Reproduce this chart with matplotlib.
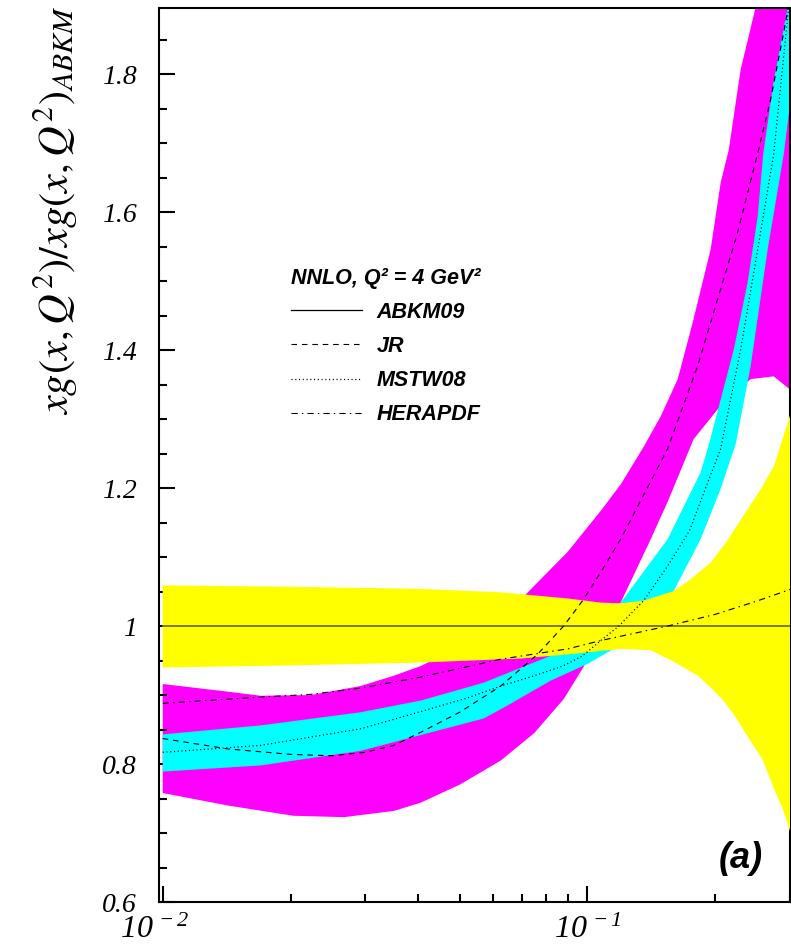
import numpy as np
import matplotlib
matplotlib.use("Agg")
import matplotlib.pyplot as plt
from matplotlib.lines import Line2D
from matplotlib.ticker import LogLocator, MultipleLocator, NullFormatter
from matplotlib.transforms import ScaledTranslation

# ABKM09 band (yellow) and central line
abkm_up_x = [0.01, 0.02, 0.04, 0.0625, 0.09, 0.1075, 0.12, 0.136, 0.16, 0.175, 0.195,
             0.213, 0.233, 0.255, 0.275, 0.288, 0.3]
abkm_up = [1.059, 1.057, 1.054, 1.049, 1.040, 1.034, 1.033, 1.037, 1.051, 1.068, 1.092,
           1.123, 1.160, 1.197, 1.232, 1.271, 1.305]
abkm_lo_x = [0.01, 0.02, 0.04, 0.07, 0.09, 0.1075, 0.12, 0.141, 0.16, 0.1685, 0.182, 0.195,
             0.2084, 0.2212, 0.2384, 0.2587, 0.2746, 0.2884, 0.3]
abkm_lo = [0.940, 0.943, 0.947, 0.953, 0.959, 0.964, 0.967, 0.965, 0.948, 0.940, 0.928, 0.911,
           0.893, 0.872, 0.840, 0.806, 0.765, 0.735, 0.703]
abkm_x = [0.01, 0.3]
abkm = [1.0, 1.0]

# JR band (magenta) and central line
jr_up_x = [0.01, 0.0142, 0.017, 0.0223, 0.0292, 0.035, 0.0405, 0.05, 0.06, 0.0716, 0.0897,
           0.1075, 0.12, 0.1357, 0.1488, 0.1632, 0.177, 0.1951, 0.206, 0.2152, 0.2296, 0.249, 0.3]
jr_up = [0.916, 0.905, 0.899, 0.900, 0.913, 0.928, 0.942, 0.970, 1.002, 1.046, 1.107,
         1.167, 1.206, 1.260, 1.304, 1.358, 1.440, 1.546, 1.643, 1.690, 1.807, 1.897, 2.100]
jr_lo_x = [0.01, 0.0142, 0.0203, 0.0267, 0.035, 0.0405, 0.05, 0.0625, 0.075, 0.0879, 0.098,
           0.1198, 0.141, 0.1545, 0.1779, 0.2026, 0.2424, 0.2746, 0.3]
jr_lo = [0.758, 0.740, 0.725, 0.723, 0.732, 0.744, 0.770, 0.805, 0.845, 0.894, 0.941,
         1.034, 1.126, 1.180, 1.271, 1.314, 1.358, 1.362, 1.343]
jr_x = [0.01, 0.0142, 0.02, 0.025, 0.03, 0.035, 0.0405, 0.05, 0.0625, 0.0763, 0.0879, 0.0975,
        0.1075, 0.1198, 0.1545, 0.1818, 0.2026, 0.2259, 0.2531, 0.2702, 0.29, 0.3]
jr = [0.837, 0.822, 0.814, 0.812, 0.817, 0.827, 0.846, 0.875, 0.913, 0.959, 1.000, 1.037,
      1.078, 1.126, 1.257, 1.377, 1.474, 1.571, 1.691, 1.764, 1.861, 1.910]

# MSTW08 band (cyan) and central line
ms_up_x = [0.01, 0.017, 0.0292, 0.0405, 0.057, 0.082, 0.1, 0.1198, 0.1545, 0.1848, 0.193,
           0.2212, 0.2384, 0.2518, 0.2594, 0.2746, 0.2963, 0.3]
ms_up = [0.843, 0.856, 0.875, 0.892, 0.918, 0.957, 0.993, 1.034, 1.126, 1.223, 1.262,
         1.401, 1.498, 1.594, 1.684, 1.790, 1.897, 1.930]
ms_lo_x = [0.01, 0.017, 0.0292, 0.0405, 0.057, 0.0649, 0.082, 0.1, 0.1153, 0.135, 0.1597,
           0.1848, 0.206, 0.2235, 0.2424, 0.2658, 0.29, 0.3011]
ms_lo = [0.789, 0.798, 0.819, 0.842, 0.866, 0.885, 0.921, 0.945, 0.967, 1.002, 1.051,
         1.126, 1.199, 1.264, 1.377, 1.546, 1.684, 1.764]
ms_x = [0.01, 0.017, 0.0292, 0.0405, 0.0523, 0.0625, 0.075, 0.0875, 0.0975, 0.1075, 0.1186,
        0.1357, 0.1545, 0.1739, 0.192, 0.206, 0.2296, 0.2518, 0.2746, 0.2979, 0.3]
ms = [0.817, 0.827, 0.851, 0.876, 0.896, 0.913, 0.928, 0.942, 0.957, 0.979, 1.000,
      1.037, 1.087, 1.138, 1.208, 1.257, 1.401, 1.546, 1.684, 1.897, 1.920]

# HERAPDF central line
hera_x = [0.01, 0.017, 0.0223, 0.0292, 0.0405, 0.0625, 0.09, 0.1075, 0.1545, 0.2, 0.25, 0.3]
hera = [0.888, 0.897, 0.901, 0.910, 0.926, 0.952, 0.967, 0.979, 1.000, 1.017, 1.036, 1.053]

names = ["ABKM09", "JR", "MSTW08", "HERAPDF"]
xtick_vals = [0.01, 0.1]
xtick_labels = [r"$10^{\,-2}$", r"$10^{\,-1}$"]
ytick_vals = [0.6, 0.8, 1.0, 1.2, 1.4, 1.6, 1.8]
ytick_labels = ["0.6", "0.8", "1", "1.2", "1.4", "1.6", "1.8"]

plt.rcParams["font.family"] = "Liberation Serif"
plt.rcParams["mathtext.fontset"] = "stix"
plt.rcParams["mathtext.rm"] = "Liberation Serif:italic"
plt.rcParams["mathtext.it"] = "Liberation Serif:italic"
plt.rcParams["mathtext.bf"] = "Liberation Serif:italic"
plt.rcParams["lines.scale_dashes"] = False


def band(ax, xu, yu, xl, yl, color, z):
    xs = np.concatenate([xu, xl[::-1]])
    ys = np.concatenate([yu, yl[::-1]])
    ax.fill(xs, ys, color=color, lw=0, zorder=z)


fig = plt.figure(figsize=(7.91, 9.47), dpi=100)
ax = fig.add_axes([159 / 791, 45 / 947, 631 / 791, 894 / 947])

band(ax, np.array(jr_up_x), np.array(jr_up), np.array(jr_lo_x), np.array(jr_lo), "#ff00ff", 1)
band(ax, np.array(ms_up_x), np.array(ms_up), np.array(ms_lo_x), np.array(ms_lo), "#00ffff", 2)
band(ax, np.array(abkm_up_x), np.array(abkm_up), np.array(abkm_lo_x), np.array(abkm_lo), "#ffff00", 3)

ax.plot(abkm_x, abkm, color="#6e6e00", lw=1.3, zorder=4)
ax.plot(jr_x, jr, color="k", lw=0.8, dashes=(4, 3.5), zorder=4)
ax.plot(ms_x, ms, color="k", lw=0.9, dashes=(0.8, 1.9), zorder=4)
ax.plot(hera_x, hera, color="k", lw=0.8, dashes=(4.5, 3, 1, 3), zorder=4)

ax.set_xscale("log")
ax.set_xlim(0.0098, 0.3)
ax.set_ylim(0.6, 1.896)
ax.set_xticks(xtick_vals, labels=xtick_labels, math_fontfamily="custom")
ax.xaxis.set_minor_locator(LogLocator(base=10, subs=np.arange(2, 10)))
ax.xaxis.set_minor_formatter(NullFormatter())
ax.set_yticks(ytick_vals, labels=ytick_labels, fontstyle="italic")
ax.yaxis.set_minor_locator(MultipleLocator(0.05))
ax.tick_params(which="both", direction="in", top=False, right=False, width=1.5)
ax.tick_params(which="major", length=11.5)
ax.tick_params(which="minor", length=5.8)
ax.tick_params(axis="y", labelsize=20, pad=16)
ax.tick_params(axis="x", labelsize=23, pad=10)
for s in ax.spines.values():
    s.set_linewidth(1.5)

# first x label sits a little left of its tick, as in the original
first = ax.get_xticklabels()[0]
first.set_transform(first.get_transform() + ScaledTranslation(-8 / 100, 0, fig.dpi_scale_trans))

fig.text(56 / 791, 1 - 210 / 947, r"$xg(x,Q^2)/xg(x,Q^2)_{ABKM}$", rotation=90,
         ha="center", va="center", fontsize=30.5, math_fontfamily="stix")

handles = [Line2D([], [], color="k", lw=0.9),
           Line2D([], [], color="k", lw=0.8, dashes=(4, 3.5)),
           Line2D([], [], color="k", lw=0.9, dashes=(0.8, 1.9)),
           Line2D([], [], color="k", lw=0.8, dashes=(4.5, 3, 1, 3))]
leg = ax.legend(handles, names, title="NNLO, Q\u00b2 = 4 GeV\u00b2", loc="upper left",
                bbox_to_anchor=(280 / 791, 1 - 257 / 947), bbox_transform=fig.transFigure,
                frameon=False, prop=dict(family="Liberation Sans", style="italic",
                                         weight="bold", size=15.5),
                title_fontproperties=dict(family="Liberation Sans", style="italic",
                                          weight="bold", size=15.5),
                handlelength=3.3, handletextpad=0.7,
                labelspacing=0.61, borderpad=0, alignment="left")

ax.text(0.957, 0.049, "(a)", transform=ax.transAxes, ha="right", va="center", fontsize=26,
        family="Liberation Sans", style="italic", weight="bold")

fig.savefig("out.png", dpi=100)
